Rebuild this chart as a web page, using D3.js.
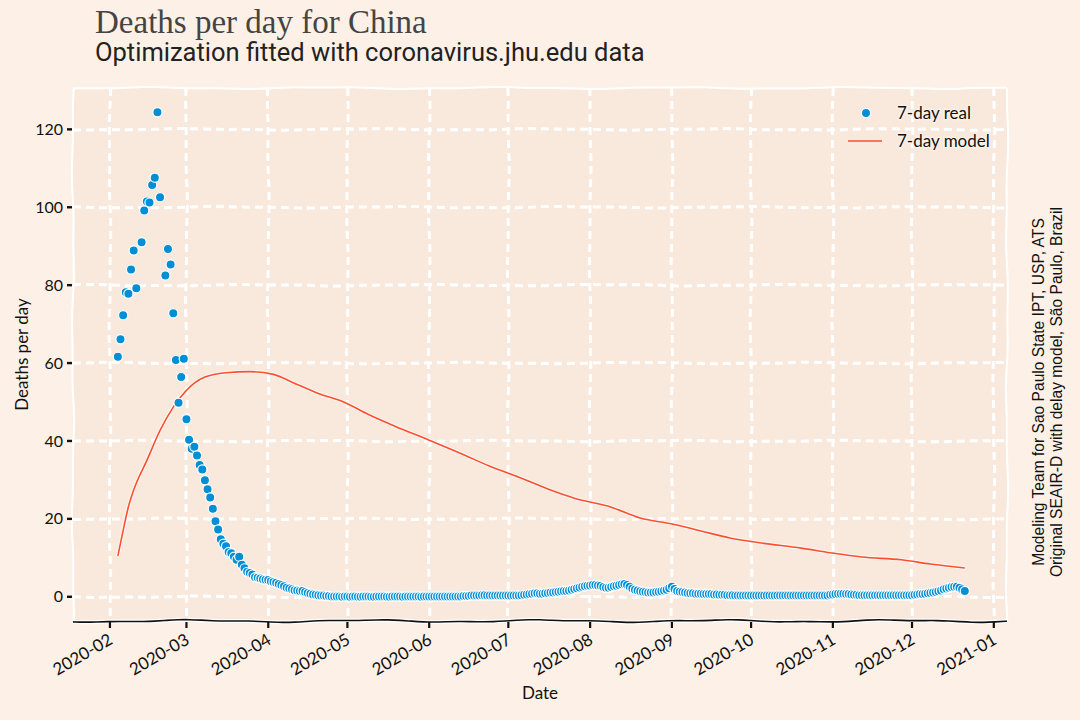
<!DOCTYPE html>
<html>
<head>
<meta charset="utf-8">
<script src="https://cdn.jsdelivr.net/npm/d3@7"></script>
<style>
  body { margin: 0; background: #fdf1e7; }
  svg { display: block; }
  .xk { font-family: Lato, "Open Sans", sans-serif; fill: #111;
        paint-order: stroke; stroke: #fdf1e7; stroke-width: 3px; stroke-linejoin: round; }
</style>
</head>
<body>
<svg id="chart" width="1080" height="720"></svg>
<script>
// ---- data ----
// 7-day real deaths, one value per day starting at realStart (null = no point)
var realStart = "2020-02-04";
var realValues = [
  61.6, 66.1, 72.3, 78.2, 77.8, 84.0, 88.9, 79.2, null, 91.0,
  99.2, 101.5, 101.2, 105.7, 107.6, 124.4, 102.6, null, 82.5, 89.3,
  85.3, 72.8, 60.8, 49.8, 56.4, 61.1, 45.6, 40.3, 38.0, 38.5,
  36.3, 33.8, 32.7, 29.9, 27.6, 25.5, 22.6, 19.4, 17.3, 14.8,
  13.6, 13.0, 11.5, 11.2, 10.3, 9.5, 10.3, 8.2, 7.3, 6.4,
  6.1, 5.7, 5.0, 4.9, 4.7, 4.5, 4.4, 4.3, 4.0, 3.8,
  3.6, 3.3, 3.0, 2.7, 2.3, 2.1, 1.9, 1.7, 1.6, 1.5,
  1.5, 1.2, 1.0, 0.8, 0.6, 0.5, 0.4, 0.3, 0.3, 0.2,
  0.2, 0.1, 0.1, 0.1, 0.1, 0.0, 0.1, 0.1, 0.0, 0.1,
  0.1, 0.0, 0.0, 0.1, 0.1, 0.1, 0.0, 0.0, 0.1, 0.1,
  0.1, 0.1, 0.0, 0.0, 0.1, 0.1, 0.1, 0.1, 0.0, 0.1,
  0.1, 0.1, 0.1, 0.1, 0.1, 0.0, 0.1, 0.1, 0.1, 0.1,
  0.1, 0.1, 0.1, 0.1, 0.1, 0.1, 0.1, 0.1, 0.1, 0.1,
  0.1, 0.2, 0.2, 0.2, 0.3, 0.3, 0.3, 0.3, 0.4, 0.4,
  0.3, 0.3, 0.3, 0.3, 0.3, 0.3, 0.3, 0.3, 0.3, 0.3,
  0.3, 0.3, 0.3, 0.4, 0.5, 0.6, 0.7, 0.8, 0.9, 0.9,
  0.8, 0.8, 0.9, 1.0, 1.1, 1.1, 1.2, 1.3, 1.4, 1.5,
  1.5, 1.6, 1.8, 2.0, 2.2, 2.4, 2.6, 2.7, 2.8, 2.9,
  3.0, 3.0, 2.9, 2.8, 2.5, 2.3, 2.3, 2.5, 2.7, 2.8,
  3.0, 3.2, 3.3, 3.0, 2.6, 2.1, 1.8, 1.6, 1.4, 1.3,
  1.2, 1.1, 1.1, 1.1, 1.2, 1.3, 1.4, 1.6, 1.8, 2.2,
  2.6, 2.0, 1.5, 1.3, 1.2, 1.1, 1.0, 0.9, 0.9, 0.8,
  0.8, 0.8, 0.7, 0.7, 0.7, 0.7, 0.6, 0.6, 0.5, 0.5,
  0.5, 0.4, 0.4, 0.4, 0.3, 0.3, 0.3, 0.3, 0.3, 0.3,
  0.3, 0.3, 0.3, 0.3, 0.3, 0.3, 0.3, 0.3, 0.3, 0.3,
  0.3, 0.3, 0.3, 0.3, 0.3, 0.3, 0.3, 0.3, 0.3, 0.3,
  0.3, 0.3, 0.3, 0.3, 0.3, 0.3, 0.3, 0.3, 0.3, 0.3,
  0.5, 0.6, 0.7, 0.8, 0.8, 0.8, 0.7, 0.7, 0.6, 0.5,
  0.5, 0.4, 0.4, 0.4, 0.4, 0.4, 0.4, 0.4, 0.4, 0.4,
  0.4, 0.4, 0.4, 0.4, 0.4, 0.4, 0.4, 0.4, 0.4, 0.4,
  0.4, 0.4, 0.5, 0.6, 0.7, 0.7, 0.8, 0.9, 1.0, 1.1,
  1.2, 1.4, 1.6, 1.9, 2.1, 2.3, 2.5, 2.6, 2.6, 2.3,
  1.9, 1.5
];

// 7-day model, sampled at these dates
var modelDates = [
  "2020-02-04", "2020-02-06", "2020-02-08", "2020-02-10", "2020-02-15", "2020-02-20",
  "2020-02-25", "2020-03-01", "2020-03-08", "2020-03-16", "2020-03-25", "2020-04-03",
  "2020-04-10", "2020-04-20", "2020-04-30", "2020-05-09", "2020-05-19", "2020-06-01",
  "2020-06-13", "2020-06-24", "2020-07-05", "2020-07-17", "2020-07-26", "2020-08-09",
  "2020-08-20", "2020-09-01", "2020-09-12", "2020-09-23", "2020-10-05", "2020-10-20",
  "2020-10-31", "2020-11-12", "2020-11-27", "2020-12-08", "2020-12-21"
];
var modelValues = [
  10.5, 17.0, 23.1, 27.4, 35.0, 42.7,
  48.7, 53.0, 56.4, 57.5, 57.8, 57.1,
  55.1, 52.2, 49.9, 46.8, 43.8, 40.2,
  36.8, 33.5, 30.7, 27.4, 25.3, 23.0,
  20.2, 18.7, 16.9, 15.1, 13.8, 12.5,
  11.3, 10.2, 9.5, 8.4, 7.4
];

var yTicks = [0, 20, 40, 60, 80, 100, 120];
var seriesNames = ["7-day real", "7-day model"];

var titleText = "Deaths per day for China";
var subtitleText = "Optimization fitted with coronavirus.jhu.edu data";
var creditLines = ["Modeling Team for Sao Paulo State IPT, USP, ATS",
                   "Original SEAIR-D with delay model, São Paulo, Brazil"];

// ---- setup ----
var W = 1080, H = 720;
var margin = { top: 88, right: 73, bottom: 99, left: 73 };
var width = W - margin.left - margin.right;
var height = H - margin.top - margin.bottom;

var blue = "#008fd5", red = "#fc4f30";
var figBg = "#fdf1e7", axBg = "#f9e8dc";

var parse = d3.timeParse("%Y-%m-%d");
var t0 = parse(realStart);
var real = realValues.map(function (v, i) {
  return { date: d3.timeDay.offset(t0, i), value: v };
}).filter(function (d) { return d.value !== null; });
var model = modelDates.map(function (s, i) { return { date: parse(s), value: modelValues[i] }; });

var svg = d3.select("#chart");
svg.append("rect").attr("width", W).attr("height", H).attr("fill", figBg);

var g = svg.append("g").attr("transform", "translate(" + margin.left + "," + margin.top + ")");

// scales (padding roughly like matplotlib's 5% margins)
var lastDate = real[real.length - 1].date;
var xScale = d3.scaleTime()
  .domain([d3.timeDay.offset(t0, -17), d3.timeDay.offset(lastDate, 16)])
  .range([0, width]);
var yMax = d3.max(real, function (d) { return d.value; });
var yScale = d3.scaleLinear()
  .domain([-0.05 * yMax, yMax * 1.05])
  .range([height, 0]);

// hand drawn looking line between two points
function wiggly(x0, y0, x1, y1, amp, phase) {
  var n = 80, pts = [];
  var len = Math.hypot(x1 - x0, y1 - y0);
  var nx = -(y1 - y0) / len, ny = (x1 - x0) / len;
  for (var i = 0; i <= n; i++) {
    var t = i / n;
    var off = amp * Math.sin(t * len / 28 + phase) + 0.5 * amp * Math.sin(t * len / 11 + phase * 2);
    pts.push([x0 + (x1 - x0) * t + nx * off, y0 + (y1 - y0) * t + ny * off]);
  }
  return d3.line().curve(d3.curveBasis)(pts);
}

// axes background
g.append("rect").attr("width", width).attr("height", height).attr("fill", axBg);

var xTicks = d3.timeMonth.range(parse("2020-02-01"), parse("2021-01-02"));

// grid
var grid = g.append("g");
grid.selectAll(".vg").data(xTicks).enter().append("path")
  .attr("d", function (d) { return wiggly(xScale(d), 0, xScale(d), height, 0.6, xScale(d)); })
  .attr("fill", "none").attr("stroke", "#fff").attr("stroke-width", 3)
  .attr("stroke-dasharray", "8,5");
grid.selectAll(".hg").data(yTicks).enter().append("path")
  .attr("d", function (d) { return wiggly(0, yScale(d), width, yScale(d), 0.6, d); })
  .attr("fill", "none").attr("stroke", "#fff").attr("stroke-width", 3)
  .attr("stroke-dasharray", "8,5");

// spines: white on three sides, black bottom
g.append("path").attr("d", wiggly(0, height, 0, 0, 0.8, 1)).attr("fill", "none").attr("stroke", "#fff").attr("stroke-width", 2);
g.append("path").attr("d", wiggly(0, 0, width, 0, 0.8, 2)).attr("fill", "none").attr("stroke", "#fff").attr("stroke-width", 2);
g.append("path").attr("d", wiggly(width, 0, width, height, 0.8, 3)).attr("fill", "none").attr("stroke", "#fff").attr("stroke-width", 2);

// model line with white halo
var line = d3.line()
  .x(function (d) { return xScale(d.date); })
  .y(function (d) { return yScale(d.value); })
  .curve(d3.curveMonotoneX);
g.append("path").datum(model).attr("d", line)
  .attr("fill", "none").attr("stroke", "#fff").attr("stroke-width", 3.5).attr("stroke-opacity", 0.7);
g.append("path").datum(model).attr("d", line)
  .attr("fill", "none").attr("stroke", red).attr("stroke-width", 1.6);

// real points
g.append("g").selectAll("circle").data(real).enter().append("circle")
  .attr("cx", function (d) { return xScale(d.date); })
  .attr("cy", function (d) { return yScale(d.value); })
  .attr("r", 4.6)
  .attr("fill", blue).attr("stroke", "#fff").attr("stroke-width", 1.2);

// bottom spine (black, drawn last)
g.append("path").attr("d", wiggly(0, height, width, height, 1.0, 0.5))
  .attr("fill", "none").attr("stroke", "#fff").attr("stroke-width", 4);
g.append("path").attr("d", wiggly(0, height, width, height, 1.0, 0.5))
  .attr("fill", "none").attr("stroke", "#111").attr("stroke-width", 1.6);

// x axis
var xAxis = g.append("g").attr("transform", "translate(0," + height + ")");
xAxis.selectAll(".tk").data(xTicks).enter().append("line")
  .attr("x1", function (d) { return xScale(d); }).attr("x2", function (d) { return xScale(d); })
  .attr("y1", 1).attr("y2", 7).attr("stroke", "#111").attr("stroke-width", 2.2);
xAxis.selectAll(".lb").data(xTicks).enter().append("text")
  .attr("class", "xk")
  .attr("transform", function (d) { return "translate(" + (xScale(d) + 1) + ",17) rotate(-30)"; })
  .attr("text-anchor", "end")
  .attr("dy", "0.35em")
  .style("font-size", "17px")
  .text(d3.timeFormat("%Y-%m"));

// y axis
var yAxis = g.append("g");
yAxis.selectAll(".tk").data(yTicks).enter().append("line")
  .attr("x1", -6).attr("x2", -1)
  .attr("y1", function (d) { return yScale(d); }).attr("y2", function (d) { return yScale(d); })
  .attr("stroke", "#111").attr("stroke-width", 2.4);
yAxis.selectAll(".lb").data(yTicks).enter().append("text")
  .attr("class", "xk")
  .attr("x", -10).attr("y", function (d) { return yScale(d); })
  .attr("dy", "0.35em").attr("text-anchor", "end")
  .style("font-size", "16px")
  .text(function (d) { return d; });

// axis labels
g.append("text").attr("class", "xk")
  .attr("x", width / 2).attr("y", height + 78)
  .attr("text-anchor", "middle").style("font-size", "17px").text("Date");
g.append("text").attr("class", "xk")
  .attr("transform", "translate(-45," + (height / 2) + ") rotate(-90)")
  .attr("text-anchor", "middle").style("font-size", "17px").text("Deaths per day");

// legend
var lg = g.append("g").attr("transform", "translate(" + (width - 141) + ",25)");
lg.append("circle").attr("cx", 0).attr("cy", 0).attr("r", 4.6)
  .attr("fill", blue).attr("stroke", "#fff").attr("stroke-width", 1.2);
lg.append("line").attr("x1", -18).attr("x2", 16).attr("y1", 28).attr("y2", 28)
  .attr("stroke", red).attr("stroke-width", 1.6);
lg.selectAll("text").data(seriesNames).enter().append("text")
  .attr("class", "xk")
  .attr("x", 31).attr("y", function (d, i) { return i * 28; })
  .attr("dy", "0.35em").style("font-size", "17px")
  .text(function (d) { return d; });

// titles
svg.append("text").attr("x", 95).attr("y", 33)
  .style("font-family", "'Liberation Serif', 'DejaVu Serif', serif")
  .style("font-size", "33px").attr("fill", "#444").text(titleText);
svg.append("text").attr("x", 95).attr("y", 61)
  .style("font-family", "Roboto, sans-serif")
  .style("font-size", "25.5px").attr("fill", "#222").text(subtitleText);

// credits on the right
svg.append("g").attr("transform", "translate(1044,392) rotate(-90)")
  .selectAll("text").data(creditLines).enter().append("text")
  .attr("x", 0).attr("y", function (d, i) { return i * 18; })
  .attr("text-anchor", "middle")
  .style("font-family", "'Liberation Sans', Arial, sans-serif")
  .style("font-size", "15.6px").attr("fill", "#111")
  .text(function (d) { return d; });
</script>
</body>
</html>
